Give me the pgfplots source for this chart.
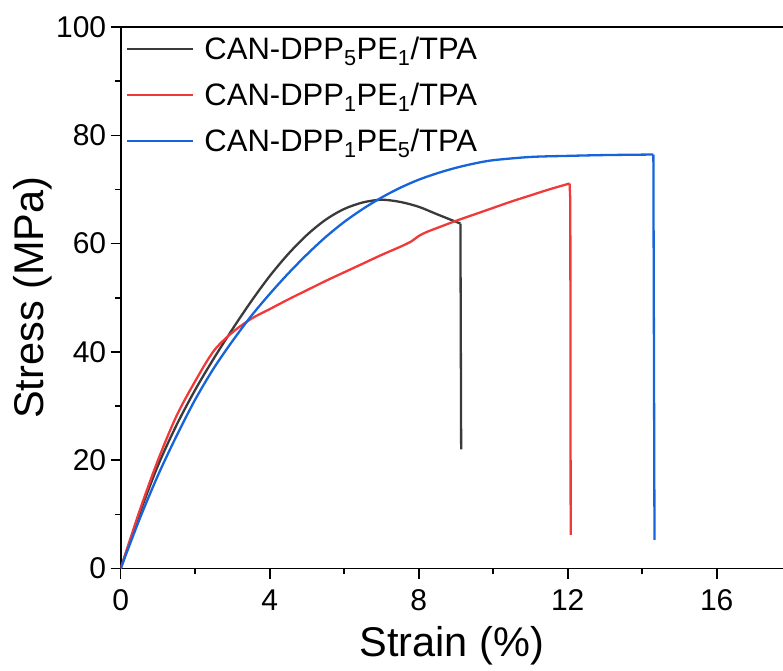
\documentclass[border=0pt]{standalone}
\usepackage{fontspec}
\setmainfont{Liberation Sans}
\usepackage{pgfplots}
\pgfplotsset{compat=1.18}
\definecolor{cblack}{RGB}{58,58,58}
\definecolor{cred}{RGB}{240,58,58}
\definecolor{cblue}{RGB}{22,100,218}
\begin{document}
\begin{tikzpicture}
\begin{axis}[
  scale only axis, width=662.3pt, height=541.5pt,
  xmin=0, xmax=17.78, ymin=0, ymax=100,
  axis lines=left,
  axis line style={line width=1.8pt, -},
  xtick={0,4,8,12,16}, minor xtick={2,6,10,14},
  ytick={0,20,40,60,80,100}, minor ytick={10,30,50,70,90},
  tick align=outside, major tick length=10pt, minor tick length=5.5pt,
  every tick/.style={line width=1.6pt, black},
  /pgf/number format/assume math mode=true,
  tick label style={font=\fontsize{30}{30}\selectfont},
  xticklabel style={yshift=-8pt},
  yticklabel style={xshift=-1pt},
  xlabel={Strain (\%)}, ylabel={Stress (MPa)},
  label style={font=\fontsize{41.5}{41.5}\selectfont},
  xlabel style={at={(axis description cs:0.5,-0.142)}, anchor=center},
  ylabel style={at={(axis description cs:-0.133,0.5)}, anchor=center, rotate=0},
  legend cell align=left,
  legend style={at={(axis description cs:0.008,0.986)}, anchor=north west,
    draw=none, fill=none, font=\fontsize{31}{31}\selectfont, row sep=18pt,
    column sep=8pt, inner sep=0pt},
  legend image code/.code={\draw[#1] (0pt,0pt) -- (66pt,0pt);},
]
\coordinate (orig) at (rel axis cs:0,0);
\draw[line width=1.8pt] (rel axis cs:0,1) -- (rel axis cs:1,1);

% black: CAN-DPP5PE1/TPA
\addplot[cblack, line width=2.3pt, smooth, tension=0.5] coordinates {
(0,0) (0.5,10) (1.0,19) (1.5,26.5) (2.0,33) (2.5,38.8) (3.0,44.2) (3.5,49.3)
(4.0,54.0) (4.5,58.1) (5.0,61.6) (5.5,64.4) (6.0,66.4) (6.5,67.6) (7.0,68.1)
(7.5,67.7) (8.0,66.8) (8.5,65.4) (9.12,63.7)};
\addlegendentry{CAN-DPP\textsubscript{5}PE\textsubscript{1}/TPA}
\addplot[cblack, line width=2.3pt, forget plot] coordinates {(9.12,63.7) (9.14,22.0)};

% red: CAN-DPP1PE1/TPA
\addplot[cred, line width=2.3pt, smooth, tension=0.5] coordinates {
(0,0) (0.5,10.5) (1.0,20) (1.5,28.2) (2.0,34.6) (2.5,40.2) (3.0,43.6)
(3.5,46.1) (4.0,47.9) (4.5,49.7) (5.0,51.4) (5.5,53.1) (6.0,54.7) (6.5,56.3)
(7.0,57.9) (7.5,59.4) (7.8,60.4) (8.0,61.4) (8.2,62.1) (8.5,62.9) (9.0,64.2)
(9.5,65.4) (10.0,66.6) (10.5,67.8) (11.0,68.9) (11.5,70.0) (12.05,71.1)};
\addlegendentry{CAN-DPP\textsubscript{1}PE\textsubscript{1}/TPA}
\addplot[cred, line width=2.3pt, forget plot] coordinates {(12.05,71.1) (12.07,68) (12.08,6.2)};

% blue: CAN-DPP1PE5/TPA
\addplot[cblue, line width=2.3pt, smooth, tension=0.5] coordinates {
(0,0) (0.5,9.0) (1.0,17.2) (1.5,24.5) (2.0,31.2) (2.5,37.0) (3.0,42.0)
(3.5,46.6) (4.0,50.7) (4.5,54.5) (5.0,58.0) (5.5,61.2) (6.0,64.0) (6.5,66.4)
(7.0,68.5) (7.5,70.3) (8.0,71.8) (8.5,73.0) (9.0,74.0) (9.5,74.8) (10.0,75.4)
(11.0,76.0) (12.0,76.2) (13.0,76.35) (14.3,76.45)};
\addlegendentry{CAN-DPP\textsubscript{1}PE\textsubscript{5}/TPA}
\addplot[cblue, line width=2.3pt, forget plot] coordinates {(14.3,76.45) (14.33,5.3)};
\end{axis}
\pgfresetboundingbox
\path (orig) ++(-120.7pt,-101.5pt) rectangle ++(783pt,670pt);
\end{tikzpicture}
\end{document}
